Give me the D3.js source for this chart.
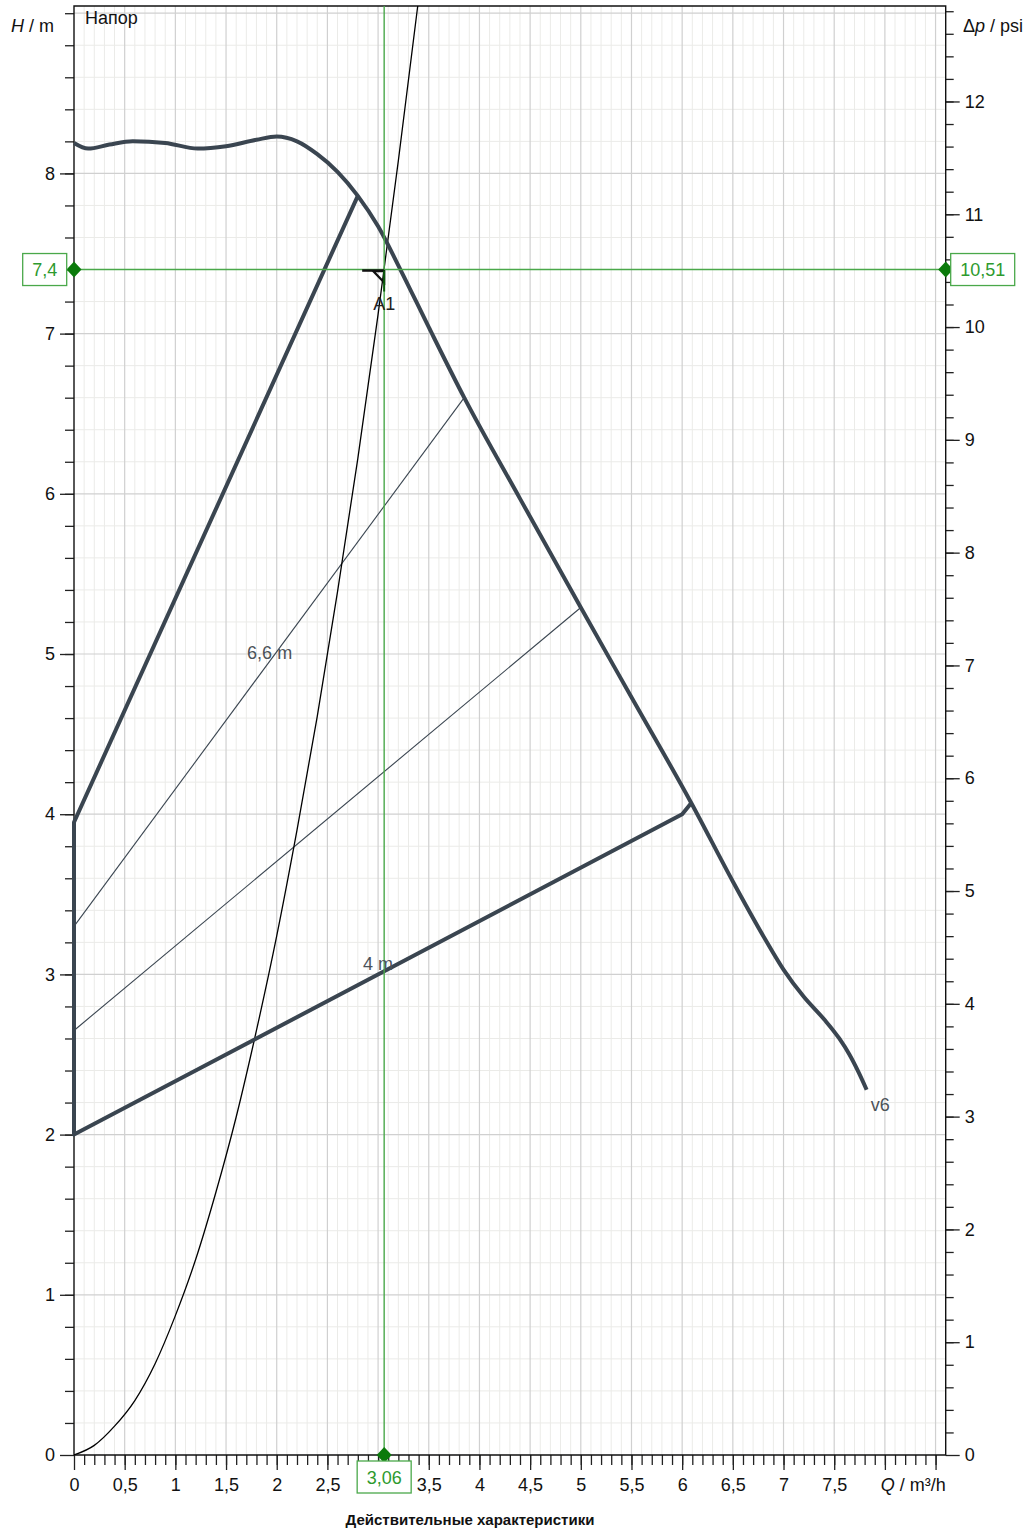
<!DOCTYPE html>
<html>
<head>
<meta charset="utf-8">
<script src="https://cdn.jsdelivr.net/npm/d3@7"></script>
<style>
  body { margin: 0; background: #fff; }
  svg { display: block; font-family: "Liberation Sans", Arial, sans-serif; }
</style>
</head>
<body>
<div id="chart"></div>
<script>
// max pump curve (v6)
const maxQ = [0, 0.14, 0.35, 0.58, 0.9, 1.22, 1.5, 1.8, 2.0, 2.2, 2.4, 2.6, 2.8, 3.0, 3.22, 3.5, 3.85, 4.4, 5.0, 5.5, 6.09, 6.5, 6.8, 7.0, 7.2, 7.4, 7.55, 7.65, 7.74, 7.82];
const maxH = [8.19, 8.155, 8.18, 8.2, 8.19, 8.155, 8.17, 8.21, 8.23, 8.2, 8.12, 8.01, 7.86, 7.67, 7.4, 7.04, 6.6, 5.97, 5.29, 4.73, 4.07, 3.58, 3.24, 3.03, 2.86, 2.72, 2.6, 2.5, 2.39, 2.28];

// control lines (dp-v)
const ctrlQ = [6.09, 6.0, 0, 0, 2.8];
const ctrlH = [4.07, 4.0, 2.0, 3.95, 7.86];
const mid1Q = [0, 3.85];
const mid1H = [3.3, 6.6];
const mid2Q = [0, 5.0];
const mid2H = [2.65, 5.29];

// system curve
const sysQ = [0, 0.2, 0.4, 0.6, 0.8, 1.0, 1.2, 1.4, 1.6, 1.8, 2.0, 2.2, 2.4, 2.6, 2.8, 3.0, 3.2, 3.4];
const sysH = [0, 0.06, 0.18, 0.34, 0.57, 0.87, 1.22, 1.64, 2.11, 2.65, 3.24, 3.9, 4.61, 5.39, 6.22, 7.12, 8.08, 9.09];

// duty point
const opQ = 3.06;
const opH = 7.4;
const opPsi = 10.51;

const xTickVals = [0, 0.5, 1, 1.5, 2, 2.5, 3.5, 4, 4.5, 5, 5.5, 6, 6.5, 7, 7.5];
const yTickVals = [0, 1, 2, 3, 4, 5, 6, 7, 8];
const psiTickVals = [0, 1, 2, 3, 4, 5, 6, 7, 8, 9, 10, 11, 12];

const width = 1032;
const height = 1530;
const margin = { top: 6, bottom: 75, left: 74, right: 86.3 };
const fs = 18;
const dark = "#3a4550";
const green = "#4aa84a";
const dgreen = "#0b7a0b";

const svg = d3.select('#chart')
  .append('svg')
  .attr('width', width)
  .attr('height', height);

const x = d3.scaleLinear()
  .domain([0, 8.6])
  .range([margin.left, width - margin.right]);

const y = d3.scaleLinear()
  .domain([0, 9.045])
  .range([height - margin.bottom, margin.top]);

const yPsi = d3.scaleLinear()
  .domain([0, 9.045 * opPsi / opH])
  .range([height - margin.bottom, margin.top]);

const fmt = d => String(d).replace('.', ',');
const x0 = x.range()[0], x1 = x.range()[1];
const y0 = y.range()[0], y1 = y.range()[1];

// grid
const vMinor = d3.range(1, 86).map(i => i / 10).filter(v => Math.round(v * 10) % 5 !== 0);
const vMajor = d3.range(1, 18).map(i => i / 2);
const hMinor = d3.range(1, 46).map(i => i / 5).filter(v => Math.round(v * 5) % 5 !== 0);
const hMajor = d3.range(1, 10);

const grid = svg.append('g');
grid.selectAll('.vmin').data(vMinor).join('line')
  .attr('x1', d => x(d)).attr('x2', d => x(d))
  .attr('y1', y1).attr('y2', y0)
  .attr('stroke', '#ebebe8').attr('stroke-width', 1);
grid.selectAll('.hmin').data(hMinor).join('line')
  .attr('x1', x0).attr('x2', x1)
  .attr('y1', d => y(d)).attr('y2', d => y(d))
  .attr('stroke', '#ebebe8').attr('stroke-width', 1);
grid.selectAll('.vmaj').data(vMajor).join('line')
  .attr('x1', d => x(d)).attr('x2', d => x(d))
  .attr('y1', y1).attr('y2', y0)
  .attr('stroke', '#d0d0d0').attr('stroke-width', 1.2);
grid.selectAll('.hmaj').data(hMajor).join('line')
  .attr('x1', x0).attr('x2', x1)
  .attr('y1', d => y(d)).attr('y2', d => y(d))
  .attr('stroke', '#d0d0d0').attr('stroke-width', 1.2);

// axes
function styleAxis(g) {
  g.select('.domain').remove();
  g.selectAll('.tick line').attr('stroke', '#222').attr('stroke-width', 1.3);
  g.selectAll('.tick text').attr('font-size', fs).attr('fill', '#111')
    .attr('font-family', '"Liberation Sans", Arial, sans-serif');
}

svg.append('g')
  .attr('transform', `translate(${x0},0)`)
  .call(d3.axisLeft(y).tickValues(d3.range(1, 46).map(i => i / 5)).tickSize(9).tickFormat(''))
  .call(styleAxis);
svg.append('g')
  .attr('transform', `translate(${x0},0)`)
  .call(d3.axisLeft(y).tickValues(yTickVals).tickSize(14).tickPadding(5).tickFormat(fmt))
  .call(styleAxis);

svg.append('g')
  .attr('transform', `translate(${x1},0)`)
  .call(d3.axisRight(yPsi).tickValues(d3.range(1, 65).map(i => i / 5)).tickSize(8).tickFormat(''))
  .call(styleAxis);
svg.append('g')
  .attr('transform', `translate(${x1},0)`)
  .call(d3.axisRight(yPsi).tickValues(psiTickVals).tickSize(14).tickPadding(5).tickFormat(fmt))
  .call(styleAxis);

svg.append('g')
  .attr('transform', `translate(0,${y0})`)
  .call(d3.axisBottom(x).tickValues(d3.range(1, 86).map(i => i / 10)).tickSize(10).tickFormat(''))
  .call(styleAxis);
svg.append('g')
  .attr('transform', `translate(0,${y0})`)
  .call(d3.axisBottom(x).tickValues(d3.range(0, 18).map(i => i / 2)).tickSize(15).tickPadding(8)
    .tickFormat(d => xTickVals.includes(d) ? fmt(d) : ''))
  .call(styleAxis);

// frame
svg.append('path')
  .attr('d', `M${x0},${y1}H${x1}V${y0}H${x0}Z`)
  .attr('fill', 'none').attr('stroke', '#111').attr('stroke-width', 1.4);

// curves
svg.append('clipPath').attr('id', 'plot')
  .append('rect').attr('x', x0).attr('y', y1).attr('width', x1 - x0).attr('height', y0 - y1);

const line = d3.line().x(d => x(d[0])).y(d => y(d[1]));
const smooth = d3.line().x(d => x(d[0])).y(d => y(d[1])).curve(d3.curveMonotoneX);

svg.append('path')
  .attr('d', line(mid1Q.map((q, i) => [q, mid1H[i]])))
  .attr('fill', 'none').attr('stroke', dark).attr('stroke-width', 1.1);
svg.append('path')
  .attr('d', line(mid2Q.map((q, i) => [q, mid2H[i]])))
  .attr('fill', 'none').attr('stroke', dark).attr('stroke-width', 1.1);

svg.append('path')
  .attr('clip-path', 'url(#plot)')
  .attr('d', smooth(sysQ.map((q, i) => [q, sysH[i]])))
  .attr('fill', 'none').attr('stroke', '#000').attr('stroke-width', 1.3);

svg.append('path')
  .attr('d', line(ctrlQ.map((q, i) => [q, ctrlH[i]])))
  .attr('fill', 'none').attr('stroke', dark).attr('stroke-width', 4)
  .attr('stroke-linejoin', 'round');
svg.append('path')
  .attr('d', smooth(maxQ.map((q, i) => [q, maxH[i]])))
  .attr('fill', 'none').attr('stroke', dark).attr('stroke-width', 4)
  .attr('stroke-linejoin', 'round');

// duty point crosshair
svg.append('line')
  .attr('x1', x(opQ)).attr('x2', x(opQ)).attr('y1', y1).attr('y2', y0)
  .attr('stroke', green).attr('stroke-width', 1.4);
svg.append('line')
  .attr('x1', x0).attr('x2', x1).attr('y1', y(opH)).attr('y2', y(opH))
  .attr('stroke', green).attr('stroke-width', 1.4);

// A1 marker
const ax = x(opQ), ay = y(opH);
svg.append('line')
  .attr('x1', ax - 22).attr('x2', ax).attr('y1', ay + 1).attr('y2', ay + 1)
  .attr('stroke', '#111').attr('stroke-width', 2.5);
svg.append('path')
  .attr('d', `M${ax - 11},${ay + 1.5}L${ax},${ay + 1.5}L${ax},${ay + 13}Z`)
  .attr('fill', 'none').attr('stroke', '#111').attr('stroke-width', 2.2);
svg.append('line')
  .attr('x1', ax).attr('x2', ax).attr('y1', ay + 1).attr('y2', ay + 22)
  .attr('stroke', '#0a5a0a').attr('stroke-width', 2);

// texts on curves
svg.append('text').attr('x', ax).attr('y', ay + 40).attr('text-anchor', 'middle')
  .attr('font-size', fs).attr('fill', '#222').text('A1');
svg.append('text').attr('x', x(1.93)).attr('y', y(4.97)).attr('text-anchor', 'middle')
  .attr('font-size', fs).attr('fill', '#4b5259').text('6,6 m');
svg.append('text').attr('x', x(3.0)).attr('y', y(3.03)).attr('text-anchor', 'middle')
  .attr('font-size', fs).attr('fill', '#4b5259').text('4 m');
svg.append('text').attr('x', x(7.86)).attr('y', y(2.15)).attr('text-anchor', 'start')
  .attr('font-size', fs).attr('fill', '#4b5259').text('v6');

// value boxes and diamonds
const diamond = 'M0,-8L7.5,0L0,8L-7.5,0Z';
[[x0, ay], [x1, ay], [ax, y0]].forEach(p => {
  svg.append('path').attr('d', diamond)
    .attr('transform', `translate(${p[0]},${p[1]})`)
    .attr('fill', dgreen);
});

function valueBox(cx, cy, w, txt) {
  svg.append('rect')
    .attr('x', cx - w / 2).attr('y', cy - 16).attr('width', w).attr('height', 32)
    .attr('fill', '#fff').attr('stroke', green).attr('stroke-width', 1.3);
  svg.append('text').attr('x', cx).attr('y', cy + 6.5).attr('text-anchor', 'middle')
    .attr('font-size', fs).attr('fill', '#2e9a2e').text(txt);
}
valueBox(x0 - 7.3 - 22, ay, 44, fmt(opH));
valueBox(x1 + 5 + 32, ay, 64, fmt(opPsi));
valueBox(ax, y0 + 6 + 16, 54, fmt(opQ));

// axis titles
const yt = svg.append('text').attr('x', 54).attr('y', 32).attr('text-anchor', 'end')
  .attr('font-size', fs).attr('fill', '#111');
yt.append('tspan').attr('font-style', 'italic').text('H');
yt.append('tspan').text(' / m');

const rt = svg.append('text').attr('x', 963).attr('y', 32)
  .attr('font-size', fs).attr('fill', '#111');
rt.append('tspan').text('Δ');
rt.append('tspan').attr('font-style', 'italic').text('p');
rt.append('tspan').text(' / psi');

const qt = svg.append('text').attr('x', x1).attr('y', y0 + 36).attr('text-anchor', 'end')
  .attr('font-size', fs).attr('fill', '#111');
qt.append('tspan').attr('font-style', 'italic').text('Q');
qt.append('tspan').text(' / m³/h');

svg.append('text').attr('x', 85).attr('y', 24)
  .attr('font-size', fs).attr('fill', '#111').text('Напор');

svg.append('text').attr('x', 470).attr('y', 1525).attr('text-anchor', 'middle')
  .attr('font-size', 15).attr('font-weight', 'bold').attr('fill', '#111')
  .text('Действительные характеристики');
</script>
</body>
</html>
